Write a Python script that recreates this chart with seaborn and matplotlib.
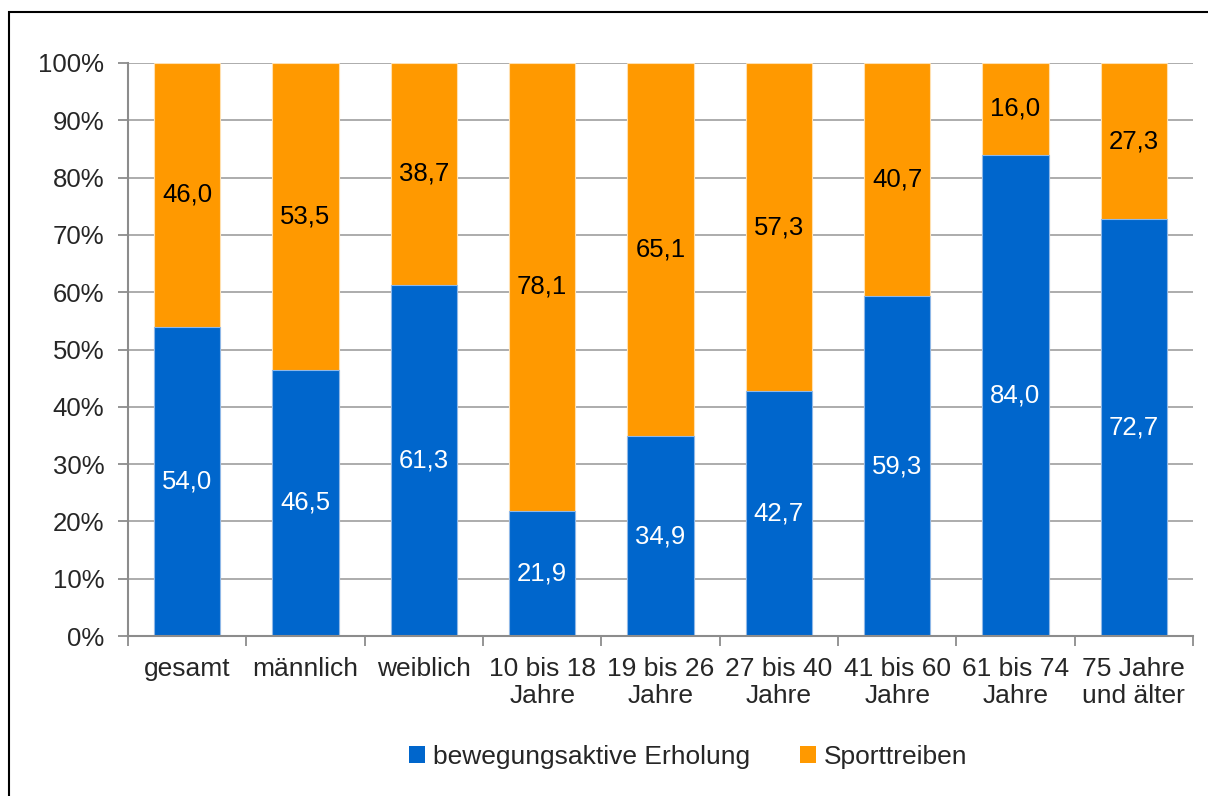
import matplotlib
matplotlib.use("Agg")
import matplotlib.pyplot as plt
import seaborn as sns
import pandas as pd
import numpy as np
from matplotlib.patches import Rectangle, Patch
from matplotlib.ticker import FixedLocator

categories = ["gesamt", "männlich", "weiblich", "10 bis 18\nJahre", "19 bis 26\nJahre",
              "27 bis 40\nJahre", "41 bis 60\nJahre", "61 bis 74\nJahre", "75 Jahre\nund älter"]
erholung = [54.0, 46.5, 61.3, 21.9, 34.9, 42.7, 59.3, 84.0, 72.7]
sport = [46.0, 53.5, 38.7, 78.1, 65.1, 57.3, 40.7, 16.0, 27.3]
series_names = ["bewegungsaktive Erholung", "Sporttreiben"]

BLUE = "#0066CC"
ORANGE = "#FF9900"
FS = 18.5
FSX = 19

sns.set_theme(style="white")
plt.rcParams["font.family"] = ["Liberation Sans", "DejaVu Sans"]

df = pd.DataFrame({"cat": categories, "erholung": erholung, "sport": sport})
df["total"] = df["erholung"] + df["sport"]

fig = plt.figure(figsize=(12.08, 7.96), dpi=100)
ax = fig.add_axes([128 / 1208, 1 - 636 / 796, (1193 - 128) / 1208, (636 - 63) / 796])

sns.barplot(data=df, x="cat", y="total", color=ORANGE, saturation=1, width=0.56,
            edgecolor="#FFE0B0", linewidth=0.8, ax=ax)
sns.barplot(data=df, x="cat", y="erholung", color=BLUE, saturation=1, width=0.56,
            edgecolor="#8FB8E8", linewidth=0.8, ax=ax)

ax.set_xlim(-0.5, len(categories) - 0.5)
ax.set_ylim(0, 100)
ax.set_yticks(np.arange(0, 101, 10))
ax.set_yticklabels([f"{v}%" for v in range(0, 101, 10)], fontsize=FS)
ax.set_xticks(range(len(categories)))
ax.set_xticklabels(categories, fontsize=FSX, linespacing=1.17)
ax.set_xlabel("")
ax.set_ylabel("")
ax.yaxis.grid(True, color="#A6A6A6", linewidth=1.3)
ax.set_axisbelow(True)

for s in ["top", "right"]:
    ax.spines[s].set_visible(False)
for s in ["left", "bottom"]:
    ax.spines[s].set_color("#8C8C8C")
    ax.spines[s].set_linewidth(1.5)

ax.tick_params(axis="y", which="major", left=True, length=7, width=1.3, color="#8C8C8C", pad=10)
ax.tick_params(axis="x", which="major", bottom=False, pad=9)
ax.xaxis.set_minor_locator(FixedLocator(np.arange(-0.5, len(categories), 1.0)))
ax.tick_params(axis="x", which="minor", bottom=True, length=7, width=1.3, color="#8C8C8C")

for i, (b, s) in enumerate(zip(erholung, sport)):
    ax.text(i, b / 2, f"{b:.1f}".replace(".", ","), ha="center", va="center",
            color="white", fontsize=FS)
    ax.text(i, b + s / 2, f"{s:.1f}".replace(".", ","), ha="center", va="center",
            color="black", fontsize=FS)

handles = [Patch(facecolor=BLUE, edgecolor="none"), Patch(facecolor=ORANGE, edgecolor="none")]
fig.legend(handles, series_names, loc="center", bbox_to_anchor=(688 / 1208, 1 - 757 / 796),
           ncol=2, frameon=False, fontsize=FSX, handlelength=0.6, handleheight=0.6,
           handletextpad=0.3, columnspacing=1.9)

fig.patches.append(Rectangle((9 / 1208, -0.05), 1.1, 1 - 12 / 796 + 0.05,
                             transform=fig.transFigure, fill=False,
                             edgecolor="black", linewidth=1.5, zorder=10))

fig.savefig("out.png", dpi=100, facecolor="white")
